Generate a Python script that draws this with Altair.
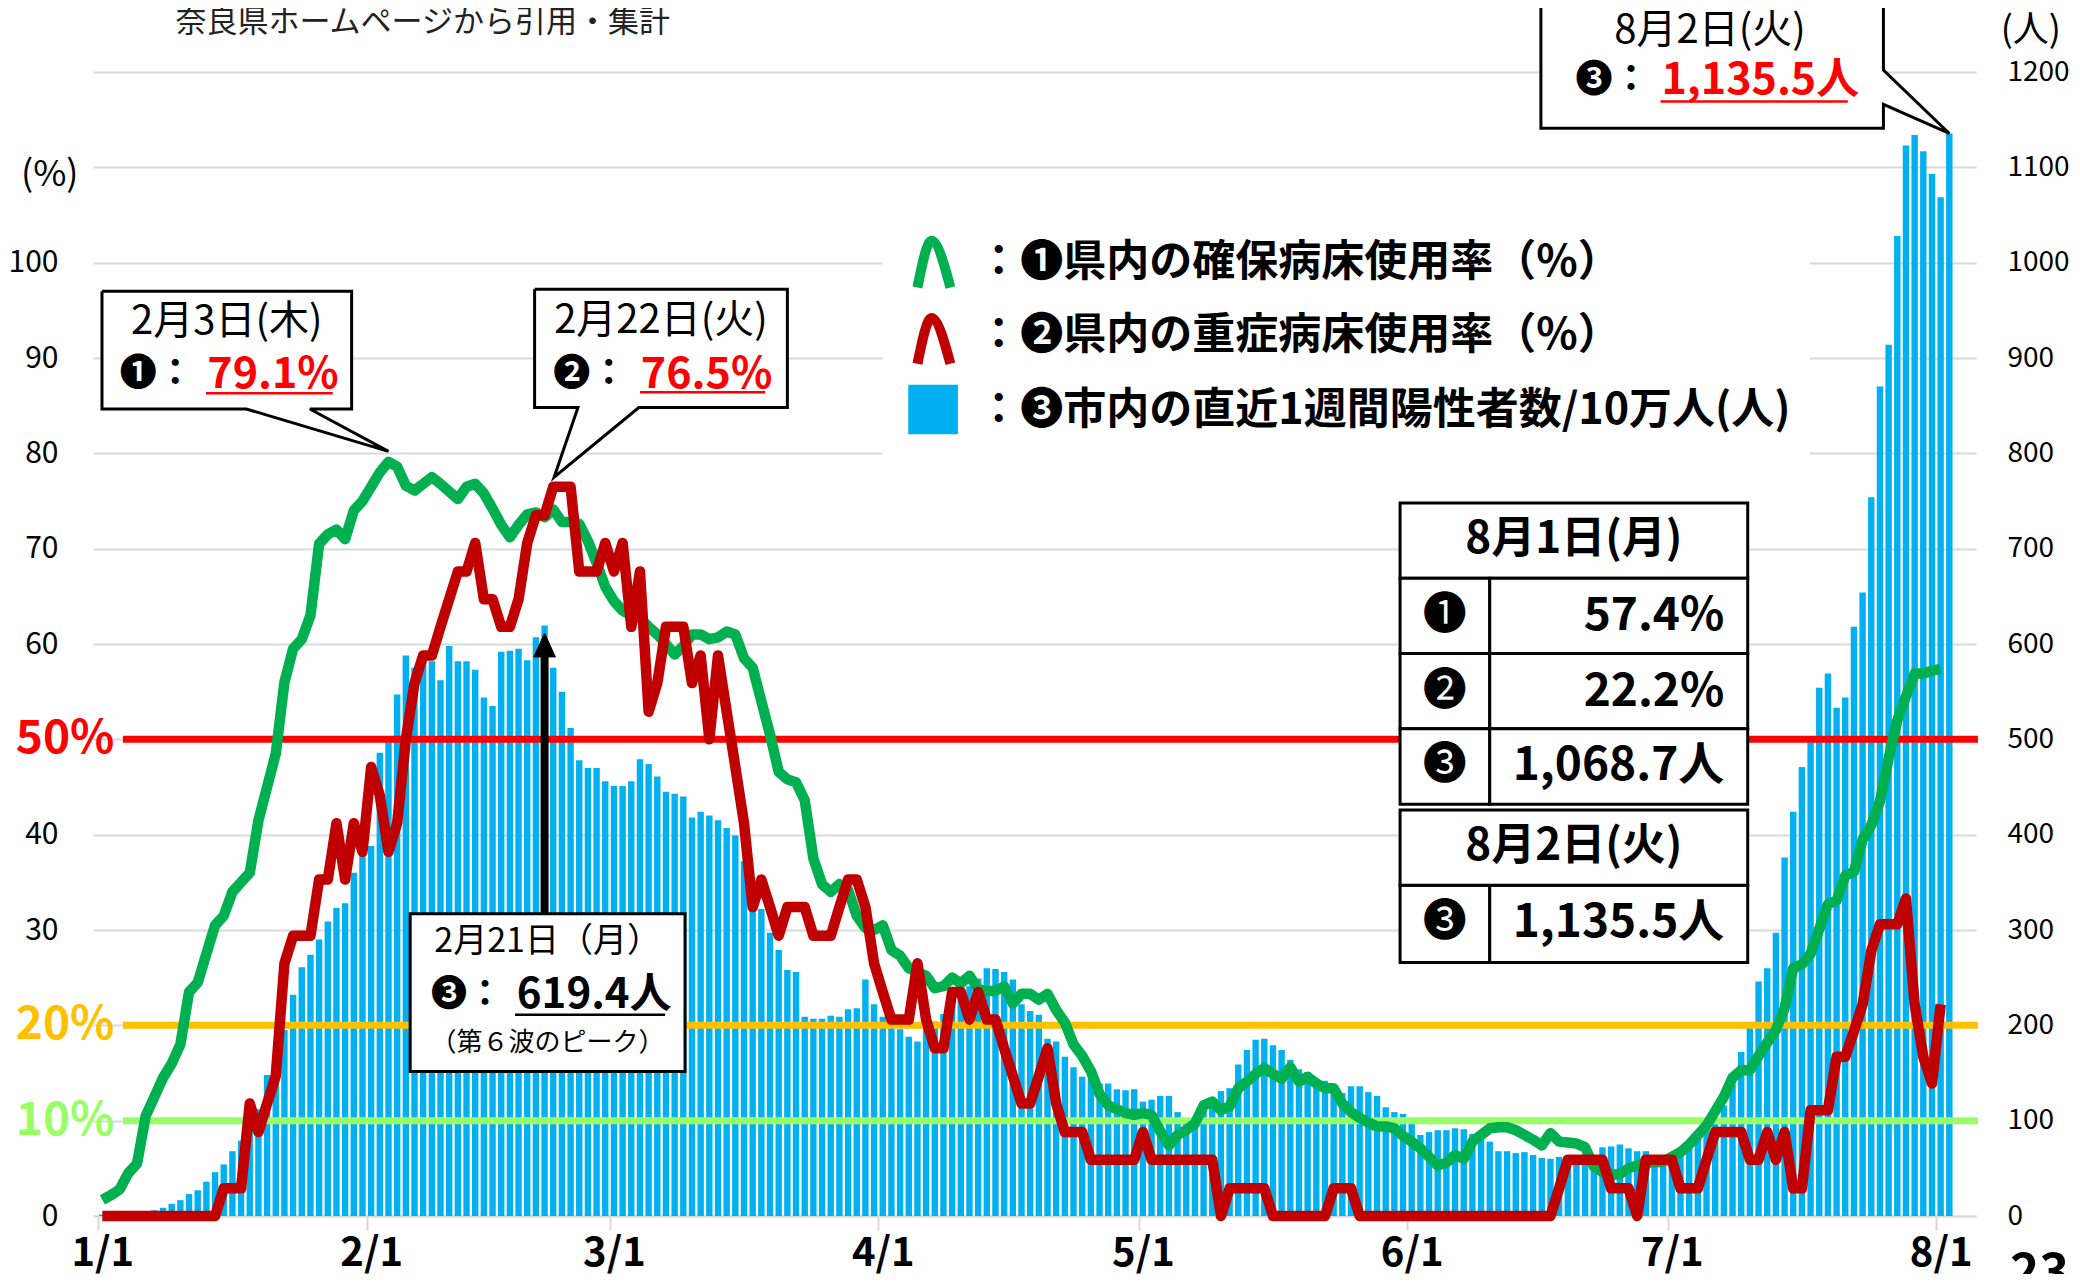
import altair as alt
import pandas as pd

FONT = "Noto Sans CJK JP"
GREEN_C = "#00B050"
RED_C = "#C00000"
BLUE_C = "#00B0F0"

# ---- data (day 0 = 1/1/2022) ----
BARS = [1.5, 2, 2.5, 3, 3.5, 4.5, 6, 8.6, 12.8, 16.6,
        23, 27, 36, 46, 54, 68, 79, 99, 112, 148,
        160, 195, 232, 261, 274, 290, 309, 323, 328, 360,
        380, 388, 486, 497, 547, 588, 575, 585, 582, 562,
        598, 582, 582, 573, 544, 535, 592, 593, 595, 583,
        607, 619.4, 575, 550, 512, 478, 470, 470, 456, 451,
        451, 456, 479, 474, 461, 445, 443, 440, 418, 424,
        420, 415, 407, 399, 372, 345, 322, 297, 279, 258,
        256, 209, 207, 207, 210, 209, 217, 218, 248, 222,
        209, 201, 196, 188, 183, 198, 204, 212, 225, 236,
        241, 249, 260, 259, 256, 248, 222, 215, 211, 186,
        183, 167, 156, 146, 144, 139, 139, 133, 132, 133,
        120, 122, 126, 126, 109, 98, 100, 110, 123, 131,
        134, 159, 174, 185, 186, 179, 174, 164, 154, 151,
        144, 142, 137, 129, 136, 136, 130, 126, 114, 109,
        107, 97, 85, 88, 90, 90, 92, 91, 86, 82,
        78, 68, 68, 66, 67, 64, 61, 60, 62, 62,
        61, 58, 55, 72, 73, 75, 71, 68, 68, 60,
        58, 65, 68, 75, 82, 92, 102, 116, 138, 172,
        198, 246, 260, 297, 376, 424, 471, 497, 554, 569,
        533, 544, 618, 654, 754, 870, 914, 1028, 1123, 1134,
        1117, 1093, 1068.7, 1135.5]

GREEN = [1.7, 2.2, 2.8, 4.5, 5.5, 10.5, 12.5, 14.5, 16.0, 18.0,
         23.5, 24.5, 27.5, 30.5, 31.5, 34.0, 35.0, 36.0, 41.5, 45.0,
         48.5, 56.0, 59.5, 60.5, 63.0, 70.5, 71.5, 72.0, 71.0, 74.0,
         75.0, 76.5, 78.0, 79.1, 78.6, 76.6, 76.1, 76.8, 77.5, 76.8,
         76.0, 75.2, 76.5, 76.8, 75.8, 74.2, 72.5, 71.2, 72.5, 73.6,
         73.8, 73.3, 74.1, 72.8, 72.8, 72.6, 70.8, 68.5, 66.0, 64.5,
         63.5, 63.0, 62.7, 61.8, 61.0, 60.0, 58.9, 59.8, 61.0, 61.0,
         60.5, 60.7, 61.3, 61.0, 58.5, 57.5, 54.0, 50.5, 46.6, 45.8,
         45.5, 43.6, 37.5, 34.8, 34.0, 34.8, 34.2, 31.5, 30.2, 30.0,
         30.5, 27.9, 27.3, 26.0, 25.6, 25.2, 23.9, 24.1, 25.0, 24.4,
         25.2, 23.8, 23.6, 23.6, 24.1, 22.3, 23.3, 23.3, 22.7, 23.3,
         21.6, 20.3, 18.0, 16.8, 15.2, 12.8, 11.6, 11.2, 10.8, 10.6,
         10.8, 10.6, 8.9, 7.4, 8.5, 9.0, 9.7, 11.6, 12.0, 11.1,
         11.5, 13.4, 14.1, 14.9, 15.5, 14.9, 14.4, 15.6, 14.1, 14.6,
         13.9, 13.4, 13.4, 11.8, 10.9, 10.3, 9.8, 9.4, 9.4, 9.2,
         8.4, 7.8, 7.1, 6.2, 5.3, 5.6, 6.4, 6.0, 7.8, 8.5,
         9.2, 9.3, 9.3, 9.0, 8.5, 8.0, 7.4, 8.7, 7.8, 7.7,
         7.6, 7.2, 5.2, 4.6, 4.3, 4.4, 5.0, 5.3, 5.6, 5.6,
         5.7, 6.2, 6.7, 7.5, 8.5, 9.5, 11.0, 12.5, 14.5, 15.3,
         15.3, 16.8, 18.2, 19.5, 21.8, 26.0, 26.4, 27.5, 30.1, 32.7,
         33.1, 35.7, 36.1, 39.5, 41.0, 43.5, 48.0, 52.0, 54.5, 56.9,
         56.9, 57.2, 57.4]

RED = [0, 0, 0, 0, 0, 0, 0, 0, 0, 0,
       0, 0, 0, 0, 2.9, 2.9, 2.9, 11.8, 8.8, 11.8,
       14.7, 26.5, 29.4, 29.4, 29.4, 35.3, 35.3, 41.2, 35.3, 41.2,
       38.2, 47.1, 44.1, 38.2, 41.2, 50.0, 55.9, 58.8, 58.8, 61.8,
       64.7, 67.6, 67.6, 70.6, 64.7, 64.7, 61.8, 61.8, 64.7, 70.6,
       73.5, 73.5, 76.5, 76.5, 76.5, 67.6, 67.6, 67.6, 70.6, 67.6,
       70.6, 61.8, 67.6, 52.9, 55.9, 61.8, 61.8, 61.8, 55.9, 58.8,
       50.0, 58.8, 52.9, 47.1, 41.2, 32.4, 35.3, 32.4, 29.4, 32.4,
       32.4, 32.4, 29.4, 29.4, 29.4, 32.4, 35.3, 35.3, 32.4, 26.5,
       23.5, 20.6, 20.6, 20.6, 26.5, 20.6, 17.6, 17.6, 23.5, 23.5,
       20.6, 23.5, 20.6, 20.6, 17.6, 14.7, 11.8, 11.8, 14.7, 17.6,
       11.8, 8.8, 8.8, 8.8, 5.9, 5.9, 5.9, 5.9, 5.9, 5.9,
       8.8, 5.9, 5.9, 5.9, 5.9, 5.9, 5.9, 5.9, 5.9, 0,
       2.9, 2.9, 2.9, 2.9, 2.9, 0, 0, 0, 0, 0,
       0, 0, 2.9, 2.9, 2.9, 0, 0, 0, 0, 0,
       0, 0, 0, 0, 0, 0, 0, 0, 0, 0,
       0, 0, 0, 0, 0, 0, 0, 0, 2.9, 5.9,
       5.9, 5.9, 5.9, 5.9, 2.9, 2.9, 2.9, 0, 5.9, 5.9,
       5.9, 5.9, 2.9, 2.9, 2.9, 5.9, 8.8, 8.8, 8.8, 8.8,
       5.9, 5.9, 8.8, 5.9, 8.8, 2.9, 2.9, 11.1, 11.1, 11.1,
       16.7, 16.7, 19.4, 22.2, 27.8, 30.6, 30.6, 30.6, 33.3, 22.2,
       16.7, 13.9, 22.2]

MONTH_DAYS = [0, 31, 59, 90, 120, 151, 181, 212]
MONTH_LABELS = ["1/1", "2/1", "3/1", "4/1", "5/1", "6/1", "7/1", "8/1"]

LEFT_TICKS = [0, 30, 40, 60, 70, 80, 90, 100]
RIGHT_TICKS = list(range(0, 1201, 100))

THRESH_VALUES = [50, 20, 10]
THRESH_LABELS = ["50%", "20%", "10%"]
THRESH_COLORS = ["#FF0000", "#FFC000", "#99FF66"]

LEGEND_LABELS = ["：❶県内の確保病床使用率（%）",
                 "：❷県内の重症病床使用率（%）",
                 "：❸市内の直近1週間陽性者数/10万人(人)"]

TABLE_HEAD = ["8月1日(月)", "8月2日(火)"]
TABLE_KEYS = ["❶", "❷", "❸", "❸"]
TABLE_VALS = ["57.4%", "22.2%", "1,068.7人", "1,135.5人"]

# ---- frames ----
df_bars = pd.DataFrame({"day": list(range(len(BARS))), "n": BARS})
df_lines = pd.DataFrame({"day": list(range(len(GREEN))), "green": GREEN, "red": RED})

XS = alt.Scale(domain=[-0.5, 215.5], nice=False, zero=False)
PS = alt.Scale(domain=[0, 120], nice=False, zero=False)
NS = alt.Scale(domain=[0, 1200], nice=False, zero=False)


def X(f, axis=None):
    return alt.X(f + ":Q", scale=XS, axis=axis, title=None)


def Y(f, axis=None, scale=None):
    return alt.Y(f + ":Q", scale=scale or PS, axis=axis, title=None)


label_expr = " : ".join(f"datum.value == {d} ? '{l}'" for d, l in zip(MONTH_DAYS, MONTH_LABELS)) + " : ''"

x_label_axis = alt.Axis(values=MONTH_DAYS, labelExpr=label_expr, labelFontSize=40,
                        labelFontWeight="bold", labelColor="black", labelPadding=17,
                        ticks=False, domain=False, grid=False, labelFlush=False,
                        labelOverlap=False, orient="bottom", labelBaseline="top")
x_tick_axis = alt.Axis(values=[d - 0.5 for d in MONTH_DAYS], labels=False, ticks=True,
                       tickSize=14, tickColor="#D9D9D9", tickWidth=2, domain=True,
                       domainColor="#D9D9D9", domainWidth=2, grid=False, orient="bottom")
right_axis = alt.Axis(orient="right", values=RIGHT_TICKS, format="d",
                      labelFontSize=28, labelColor="black", labelPadding=31, ticks=False,
                      domain=False, grid=True, gridColor="#D9D9D9", gridWidth=2,
                      labelFlush=False, labelAlign="left", labelBaseline="middle")
left_axis = alt.Axis(orient="left", values=LEFT_TICKS, format="d",
                     labelFontSize=30, labelColor="black", labelPadding=35, ticks=False,
                     domain=False, grid=False, labelFlush=False, labelBaseline="middle")

layers = []

# legend background (covers grid)
layers.append(alt.Chart(pd.DataFrame([{"x1": 90.0, "x2": 196.9, "y1": 77.7, "y2": 106.1}]))
              .mark_rect(fill="white").encode(x=X("x1"), x2=alt.X2("x2"), y=Y("y1"), y2=alt.Y2("y2")))

# bars
layers.append(alt.Chart(df_bars).mark_bar(color=BLUE_C, size=6.4)
              .encode(x=X("day", x_label_axis), y=Y("n", right_axis, NS)))

# threshold lines
df_thr = pd.DataFrame({"y": THRESH_VALUES, "c": THRESH_COLORS, "t": THRESH_LABELS,
                       "x1": [2.37] * 3, "x2": [216.3] * 3, "xl": [-4.3] * 3})
layers.append(alt.Chart(df_thr).mark_rule(strokeWidth=7)
              .encode(x=X("x1"), x2=alt.X2("x2"), y=Y("y"), color=alt.Color("c:N", scale=None)))
layers.append(alt.Chart(df_thr).mark_text(font=FONT, fontSize=46, fontWeight="bold", align="center",
                                          baseline="middle")
              .encode(x=X("xl"), y=Y("y"), text="t:N", color=alt.Color("c:N", scale=None)))

# data lines
layers.append(alt.Chart(df_lines).mark_line(color=GREEN_C, strokeWidth=10.5, strokeJoin="round")
              .encode(x=X("day", x_tick_axis), y=Y("green", left_axis)))
layers.append(alt.Chart(df_lines).mark_line(color=RED_C, strokeWidth=10.5, strokeJoin="round")
              .encode(x=X("day"), y=Y("red")))

# callout polygons
tip3 = BARS[213] / 10
poly = []
shapes = {
    "c1": [(-0.04, 97.0), (28.75, 97.0), (28.75, 84.65), (23.93, 84.65), (33.0, 80.2),
           (16.6, 84.65), (-0.04, 84.65), (-0.04, 97.0)],
    "c2": [(49.85, 97.2), (79.0, 97.2), (79.0, 84.8), (61.87, 84.8), (52.1, 77.5),
           (54.85, 84.8), (49.85, 84.8), (49.85, 97.2)],
    "c3": [(165.9, 140.0), (205.4, 140.0), (205.4, 120.2), (213, tip3), (205.4, 116.6),
           (205.4, 114.1), (165.9, 114.1), (165.9, 140.0)],
}
for k, pts in shapes.items():
    for i, (x, y) in enumerate(pts):
        poly.append({"id": k, "i": i, "x": x, "y": y})
layers.append(alt.Chart(pd.DataFrame(poly))
              .mark_line(fill="white", stroke="black", strokeWidth=3, strokeJoin="miter")
              .encode(x=X("x"), y=Y("y"), order=alt.Order("i:Q"), detail="id:N"))

# 2/21 box and arrow
layers.append(alt.Chart(pd.DataFrame([{"x1": 35.5, "x2": 67.2, "y1": 15.16, "y2": 31.7}]))
              .mark_rect(fill="white", stroke="black", strokeWidth=3)
              .encode(x=X("x1"), x2=alt.X2("x2"), y=Y("y1"), y2=alt.Y2("y2")))
arrow_tip = BARS[51] / 10 - 0.8
layers.append(alt.Chart(pd.DataFrame([{"x": 51, "y1": 31.7, "y2": arrow_tip - 2.0}]))
              .mark_rule(color="black", strokeWidth=8)
              .encode(x=X("x"), y=Y("y1"), y2=alt.Y2("y2")))
head = pd.DataFrame([{"i": 0, "x": 49.75, "y": arrow_tip - 2.5}, {"i": 1, "x": 51, "y": arrow_tip},
                     {"i": 2, "x": 52.25, "y": arrow_tip - 2.5}, {"i": 3, "x": 49.75, "y": arrow_tip - 2.5}])
layers.append(alt.Chart(head).mark_line(fill="black", stroke="black", strokeWidth=1)
              .encode(x=X("x"), y=Y("y"), order=alt.Order("i:Q")))

# table
cells = []
x0, xm, x1 = 149.66, 160.0, 189.75
cells.append({"x1": x0, "x2": x1, "y1": 66.9, "y2": 74.8})
for ya, yb in [(59.0, 66.9), (51.1, 59.0), (43.2, 51.1), (26.6, 34.7)]:
    cells.append({"x1": x0, "x2": xm, "y1": ya, "y2": yb})
    cells.append({"x1": xm, "x2": x1, "y1": ya, "y2": yb})
cells.append({"x1": x0, "x2": x1, "y1": 34.7, "y2": 42.6})
layers.append(alt.Chart(pd.DataFrame(cells)).mark_rect(fill="white", stroke="black", strokeWidth=3)
              .encode(x=X("x1"), x2=alt.X2("x2"), y=Y("y1"), y2=alt.Y2("y2")))

# underlines
ul = pd.DataFrame([
    {"x1": 11.95, "x2": 26.57, "y": 86.3, "c": "#FF0000"},
    {"x1": 62.0, "x2": 76.45, "y": 86.4, "c": "#FF0000"},
    {"x1": 179.7, "x2": 201.3, "y": 116.9, "c": "#FF0000"},
    {"x1": 47.6, "x2": 64.9, "y": 21.1, "c": "black"},
])
layers.append(alt.Chart(ul).mark_rule(strokeWidth=2.5)
              .encode(x=X("x1"), x2=alt.X2("x2"), y=Y("y"), color=alt.Color("c:N", scale=None)))

# legend glyphs
lg = pd.DataFrame([
    {"id": "g", "i": 0, "x": 94.0, "y": 97.4}, {"id": "g", "i": 1, "x": 95.63, "y": 102.3},
    {"id": "g", "i": 2, "x": 97.8, "y": 97.4},
    {"id": "r", "i": 0, "x": 94.0, "y": 89.4}, {"id": "r", "i": 1, "x": 95.63, "y": 94.2},
    {"id": "r", "i": 2, "x": 97.8, "y": 89.4},
])
lg["c"] = lg["id"].map({"g": GREEN_C, "r": RED_C})
layers.append(alt.Chart(lg).mark_line(strokeWidth=10, strokeJoin="round", interpolate="monotone")
              .encode(x=X("x"), y=Y("y"), order=alt.Order("i:Q"), detail="id:N",
                      color=alt.Color("c:N", scale=None)))
layers.append(alt.Chart(pd.DataFrame([{"x1": 92.94, "x2": 98.67, "y1": 82.0, "y2": 87.2}]))
              .mark_rect(fill=BLUE_C).encode(x=X("x1"), x2=alt.X2("x2"), y=Y("y1"), y2=alt.Y2("y2")))


def texts(rows, **kw):
    df = pd.DataFrame(rows, columns=["x", "y", "t"])
    kw.setdefault("baseline", "middle")
    kw.setdefault("color", "black")
    return alt.Chart(df).mark_text(font=FONT, **kw).encode(x=X("x"), y=Y("y"), text="t:N")


layers.append(texts([(100.9, 99.96, LEGEND_LABELS[0]), (100.9, 92.3, LEGEND_LABELS[1]),
                     (100.9, 84.4, LEGEND_LABELS[2])], fontSize=43, fontWeight="bold", align="left"))

# header / axis unit texts
layers.append(texts([(36.95, 125.1, "奈良県ホームページから引用・集計")], fontSize=31, align="center",
                    color="#222222"))
layers.append(texts([(-6.06, 109.2, "(%)"), (222.4, 124.3, "(人)")], fontSize=36, align="center"))

# callout date lines
layers.append(texts([(14.35, 93.8, "2月3日(木)"), (64.42, 93.9, "2月22日(火)"),
                     (185.4, 124.3, "8月2日(火)")], fontSize=40, align="center"))
layers.append(texts([(2.0, 88.2, "❶："), (52.0, 88.2, "❷："), (169.9, 119.1, "❸：")],
                    fontSize=37, fontWeight="bold", align="left"))
layers.append(texts([(12.1, 88.2, "79.1%"), (62.1, 88.2, "76.5%"), (179.8, 119.1, "1,135.5人")],
                    fontSize=43, fontWeight="bold", align="left", color="#FF0000"))

# 2/21 box texts
layers.append(texts([(51.35, 28.7, "2月21日（月）")], fontSize=34, align="center"))
layers.append(texts([(37.9, 23.2, "❸：")], fontSize=36, fontWeight="bold", align="left"))
layers.append(texts([(47.8, 23.2, "619.4人")], fontSize=42, fontWeight="bold", align="left"))
layers.append(texts([(51.35, 18.1, "（第６波のピーク）")], fontSize=26, align="center"))

# table texts
layers.append(texts([(169.7, 70.9, TABLE_HEAD[0]), (169.7, 38.7, TABLE_HEAD[1])],
                    fontSize=44, fontWeight="bold", align="center"))
key_y = [62.9, 55.0, 47.2, 30.7]
layers.append(texts([(154.8, y, k) for y, k in zip(key_y, TABLE_KEYS)], fontSize=44, align="center"))
layers.append(texts([(187.05, y, v) for y, v in zip(key_y, TABLE_VALS)],
                    fontSize=46, fontWeight="bold", align="right"))

# page number
layers.append(texts([(223.4, -3.5, "23")], fontSize=50, fontWeight="bold", align="center", baseline="top"))

chart = (alt.layer(*layers)
         .resolve_scale(y="independent")
         .resolve_axis(x="independent", y="independent")
         .properties(width=1883, height=1144,
                     padding={"left": 85, "top": 64, "right": 96, "bottom": 58},
                     autosize=alt.AutoSizeParams(type="none"))
         .configure(font=FONT)
         .configure_view(stroke=None))

chart.save("out.html", embed_options={"renderer": "svg", "actions": False})
